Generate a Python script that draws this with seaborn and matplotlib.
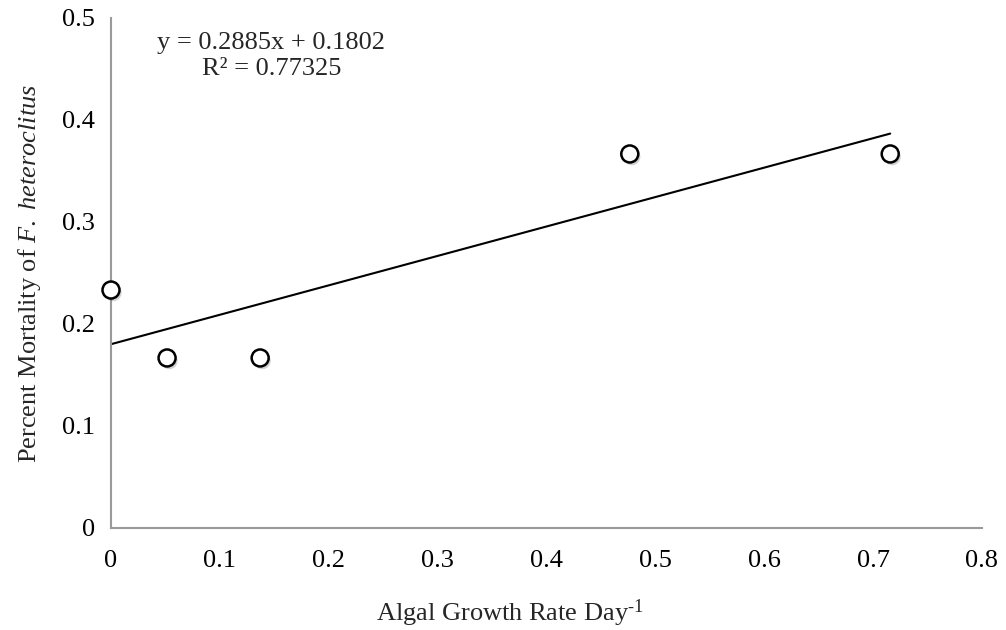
import matplotlib
matplotlib.use("Agg")
import matplotlib.pyplot as plt
import matplotlib.patheffects as pe
import seaborn as sns
import pandas as pd

# Algal growth rate (per day) vs. mortality of F. heteroclitus
growth_rate = [0.0, 0.0515, 0.137, 0.4765, 0.7157]
mortality = [0.2333, 0.1667, 0.1667, 0.3667, 0.3667]

# Linear trendline parameters
slope = 0.2885
intercept = 0.1802
r_squared = 0.77325

x_ticks = [0, 0.1, 0.2, 0.3, 0.4, 0.5, 0.6, 0.7, 0.8]
y_ticks = [0, 0.1, 0.2, 0.3, 0.4, 0.5]

sns.set_theme(style="white")
plt.rcParams["font.family"] = ["Liberation Serif", "DejaVu Serif"]
plt.rcParams["mathtext.fontset"] = "custom"
plt.rcParams["mathtext.rm"] = "Liberation Serif"
plt.rcParams["mathtext.it"] = "Liberation Serif:italic"

df = pd.DataFrame({"growth": growth_rate, "mortality": mortality})
fit_x = [min(growth_rate), max(growth_rate)]
fit = pd.DataFrame({"growth": fit_x, "mortality": [slope * v + intercept for v in fit_x]})

fig = plt.figure(figsize=(10.06, 6.3), dpi=100)
ax = fig.add_axes([111 / 1006, 1 - 528 / 630, 871 / 1006, 510 / 630])

sns.lineplot(data=fit, x="growth", y="mortality", color="black", linewidth=1.5, ax=ax)
sns.scatterplot(data=df, x="growth", y="mortality", s=150, facecolor="white",
                edgecolor="black", linewidth=1.8, zorder=3, clip_on=False, ax=ax,
                path_effects=[pe.SimplePatchShadow(offset=(1.5, -2), alpha=0.25), pe.Normal()])

ax.set_xlim(0, 0.8)
ax.set_ylim(0, 0.5)
ax.set_xticks(x_ticks)
ax.set_yticks(y_ticks)
ax.set_xticklabels([f"{v:g}" for v in x_ticks])
ax.set_yticklabels([f"{v:g}" for v in y_ticks])

for side in ("top", "right"):
    ax.spines[side].set_visible(False)
for side in ("left", "bottom"):
    ax.spines[side].set_color("#9a9a9a")
    ax.spines[side].set_linewidth(1.5)

ax.tick_params(axis="both", which="major", direction="out", length=5, width=1.3,
               color="#9a9a9a", labelsize=19, labelcolor="black")
ax.tick_params(axis="x", pad=11)
ax.tick_params(axis="y", pad=6.5)

ax.set_xlabel(r"Algal Growth Rate Day$^{\text{-1}}$", fontsize=19, labelpad=18, x=0.458)
ax.set_ylabel(r"Percent Mortality of $\mathit{F.\ heteroclitus}$", fontsize=19, labelpad=14)

ax.text(0.184, 0.972, f"y = {slope}x + {intercept}\nR² = {r_squared}",
        transform=ax.transAxes, ha="center", va="top", multialignment="center",
        fontsize=19, linespacing=1.2)

fig.savefig("out.png", dpi=100)
